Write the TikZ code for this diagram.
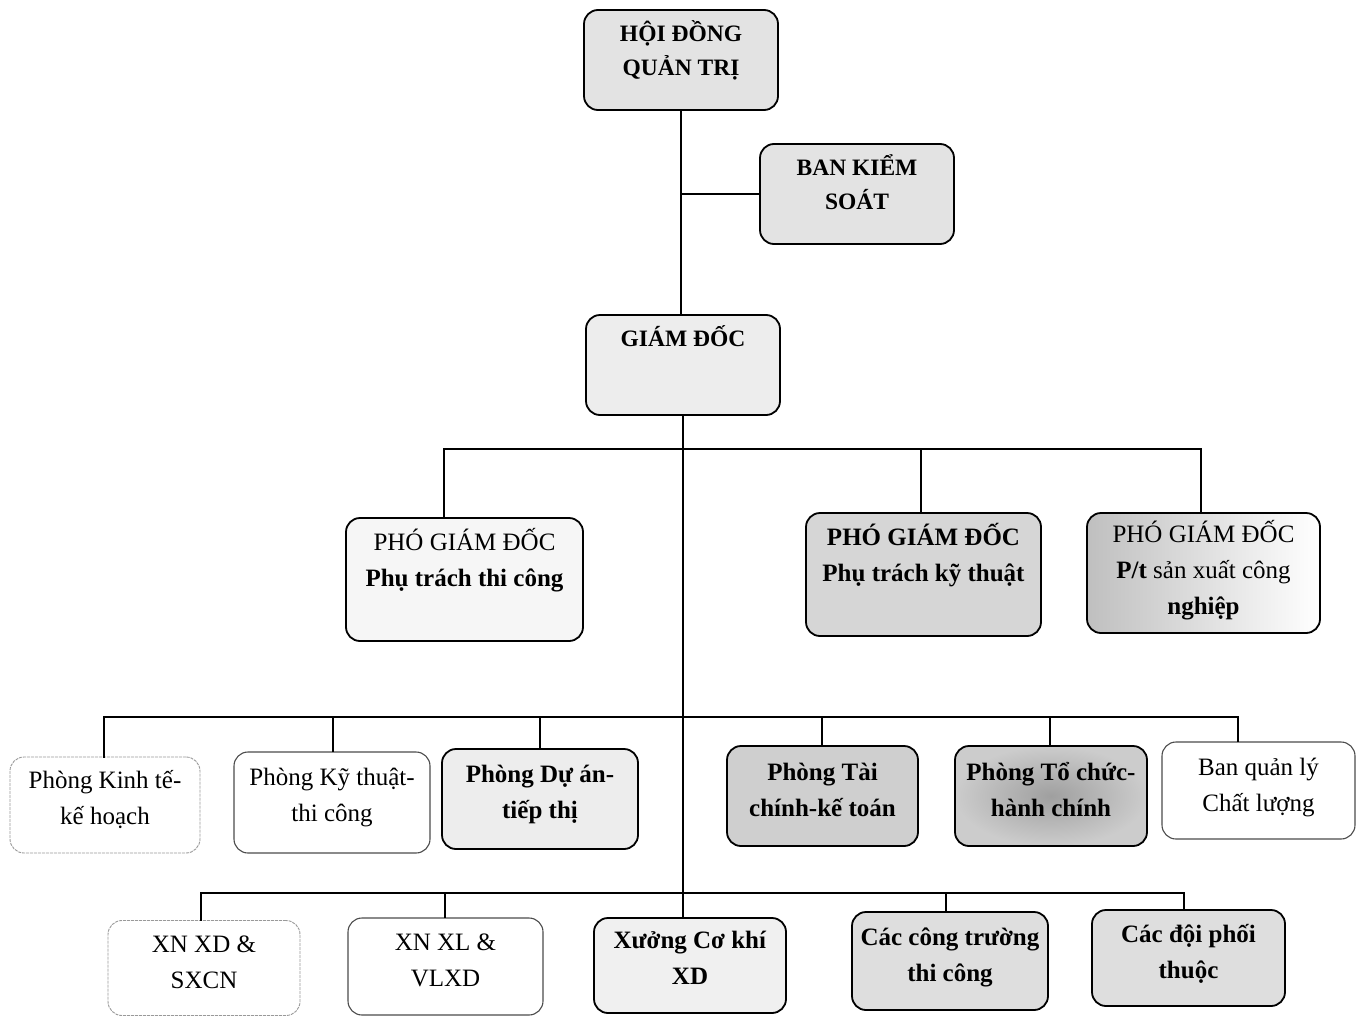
\documentclass[tikz,border=0pt]{standalone}
\usepackage{fontspec}
\setmainfont{Liberation Serif}
\newcommand\tb[4]{\parbox[t][#2pt][t]{#1pt}{\centering\rule{0pt}{#3pt}#4\par}}
\tikzset{
  box/.style={draw=black, line width=1.8pt, rounded corners=14pt, inner sep=0pt},
  lightbox/.style={draw=black!70, line width=1.1pt, rounded corners=14pt, inner sep=0pt},
  faintbox/.style={draw=black!40, line width=0.9pt, dash pattern=on 3pt off 1pt, rounded corners=14pt, inner sep=0pt},
  big/.style={font=\fontsize{23.5}{34}\selectfont\bfseries},
  mid/.style={font=\fontsize{25}{36}\selectfont},
  conn/.style={line width=2.4pt, line cap=rect},
  conn2/.style={line width=1.9pt, line cap=rect},
}
\begin{document}
\begin{tikzpicture}[x=1pt,y=-1pt]
\useasboundingbox[fill=white] (0,0) rectangle (1363,1017);
% top level
\node[box, big, fill=gray!22] (hdqt) at (681,60) {\tb{194}{100}{31}{HỘI ĐỒNG\\QUẢN TRỊ}};
\node[box, big, fill=gray!22] (bks) at (857,194) {\tb{194}{100}{31}{BAN KIỂM\\SOÁT}};
\node[box, big, fill=gray!14] (gd) at (683,365) {\tb{194}{100}{31}{GIÁM ĐỐC}};
% deputies
\node[box, mid, fill=gray!7] (pgd1) at (464.5,579.5) {\tb{237}{123}{32}{PHÓ GIÁM ĐỐC\\\textbf{Phụ trách thi công}}};
\node[box, mid, fill=gray!32] (pgd2) at (923.5,574.5) {\tb{235}{123}{32}{\textbf{PHÓ GIÁM ĐỐC}\\\textbf{Phụ trách kỹ thuật}}};
\node[box, mid, left color=gray!50, right color=white] (pgd3) at (1203.5,573) {\tb{233}{120}{29}{PHÓ GIÁM ĐỐC\\\textbf{P/t} sản xuất công\\\textbf{nghiệp}}};
% departments
\node[faintbox, mid, fill=white] (b1) at (105,805) {\tb{190}{96}{31}{Phòng Kinh tế-\\kế hoạch}};
\node[lightbox, mid, fill=white] (b2) at (332,802.5) {\tb{196}{101}{33}{Phòng Kỹ thuật-\\thi công}};
\node[box, mid, fill=gray!14] (b3) at (540,799) {\tb{196}{100}{33}{\textbf{Phòng Dự án-}\\\textbf{tiếp thị}}};
\node[box, mid, fill=gray!38] (b4) at (822.5,796) {\tb{191}{100}{34}{\textbf{Phòng Tài}\\\textbf{chính-kế toán}}};
\node[box, mid, inner color=gray!75, outer color=gray!40] (b5) at (1051,796) {\tb{192}{100}{34}{\textbf{Phòng Tổ chức-}\\\textbf{hành chính}}};
\node[lightbox, mid, fill=white] (b6) at (1258.5,790.5) {\tb{193}{97}{33}{Ban quản lý\\Chất lượng}};
% units
\node[faintbox, mid, fill=white] (c1) at (204,968) {\tb{192}{95}{32}{XN XD \&\\SXCN}};
\node[lightbox, mid, fill=white] (c2) at (445.5,966.5) {\tb{195}{97}{32}{XN XL \&\\VLXD}};
\node[box, mid, fill=gray!12] (c3) at (690,965.5) {\tb{192}{95}{30}{\textbf{Xưởng Cơ khí}\\\textbf{XD}}};
\node[box, mid, fill=gray!26] (c4) at (950,961) {\tb{196}{98}{33}{\textbf{Các công trường}\\\textbf{thi công}}};
\node[box, mid, fill=gray!26] (c5) at (1188.5,958) {\tb{193}{96}{32}{\textbf{Các đội phối}\\\textbf{thuộc}}};
% junction coordinates
\coordinate (j11) at (444,449);
\coordinate (j12) at (921,449);
\coordinate (j13) at (1201,449);
\coordinate (j21) at (104,717);
\coordinate (j22) at (333,717);
\coordinate (j23) at (540,717);
\coordinate (j24) at (822,717);
\coordinate (j25) at (1050,717);
\coordinate (j26) at (1238,717);
\coordinate (j31) at (201,893);
\coordinate (j32) at (445,893);
\coordinate (j34) at (946,893);
\coordinate (j35) at (1184,893);
% connectors
\draw[conn] (hdqt.south) -- (hdqt.south |- gd.north);
\draw[conn] (hdqt.south |- bks.west) -- (bks.west);
\draw[conn] (gd.south) -- (gd.south |- c3.north);
\draw[conn] (j11 |- pgd1.north) -- (j11) -- (j13) -- (j13 |- pgd3.north);
\draw[conn] (j12) -- (j12 |- pgd2.north);
\draw[conn2] (j21 |- b1.north) -- (j21) -- (j26) -- (j26 |- b6.north);
\draw[conn2] (j22) -- (j22 |- b2.north);
\draw[conn2] (j23) -- (j23 |- b3.north);
\draw[conn2] (j24) -- (j24 |- b4.north);
\draw[conn2] (j25) -- (j25 |- b5.north);
\draw[conn2] (j31 |- c1.north) -- (j31) -- (j35) -- (j35 |- c5.north);
\draw[conn2] (j32) -- (j32 |- c2.north);
\draw[conn2] (j34) -- (j34 |- c4.north);
\end{tikzpicture}
\end{document}
